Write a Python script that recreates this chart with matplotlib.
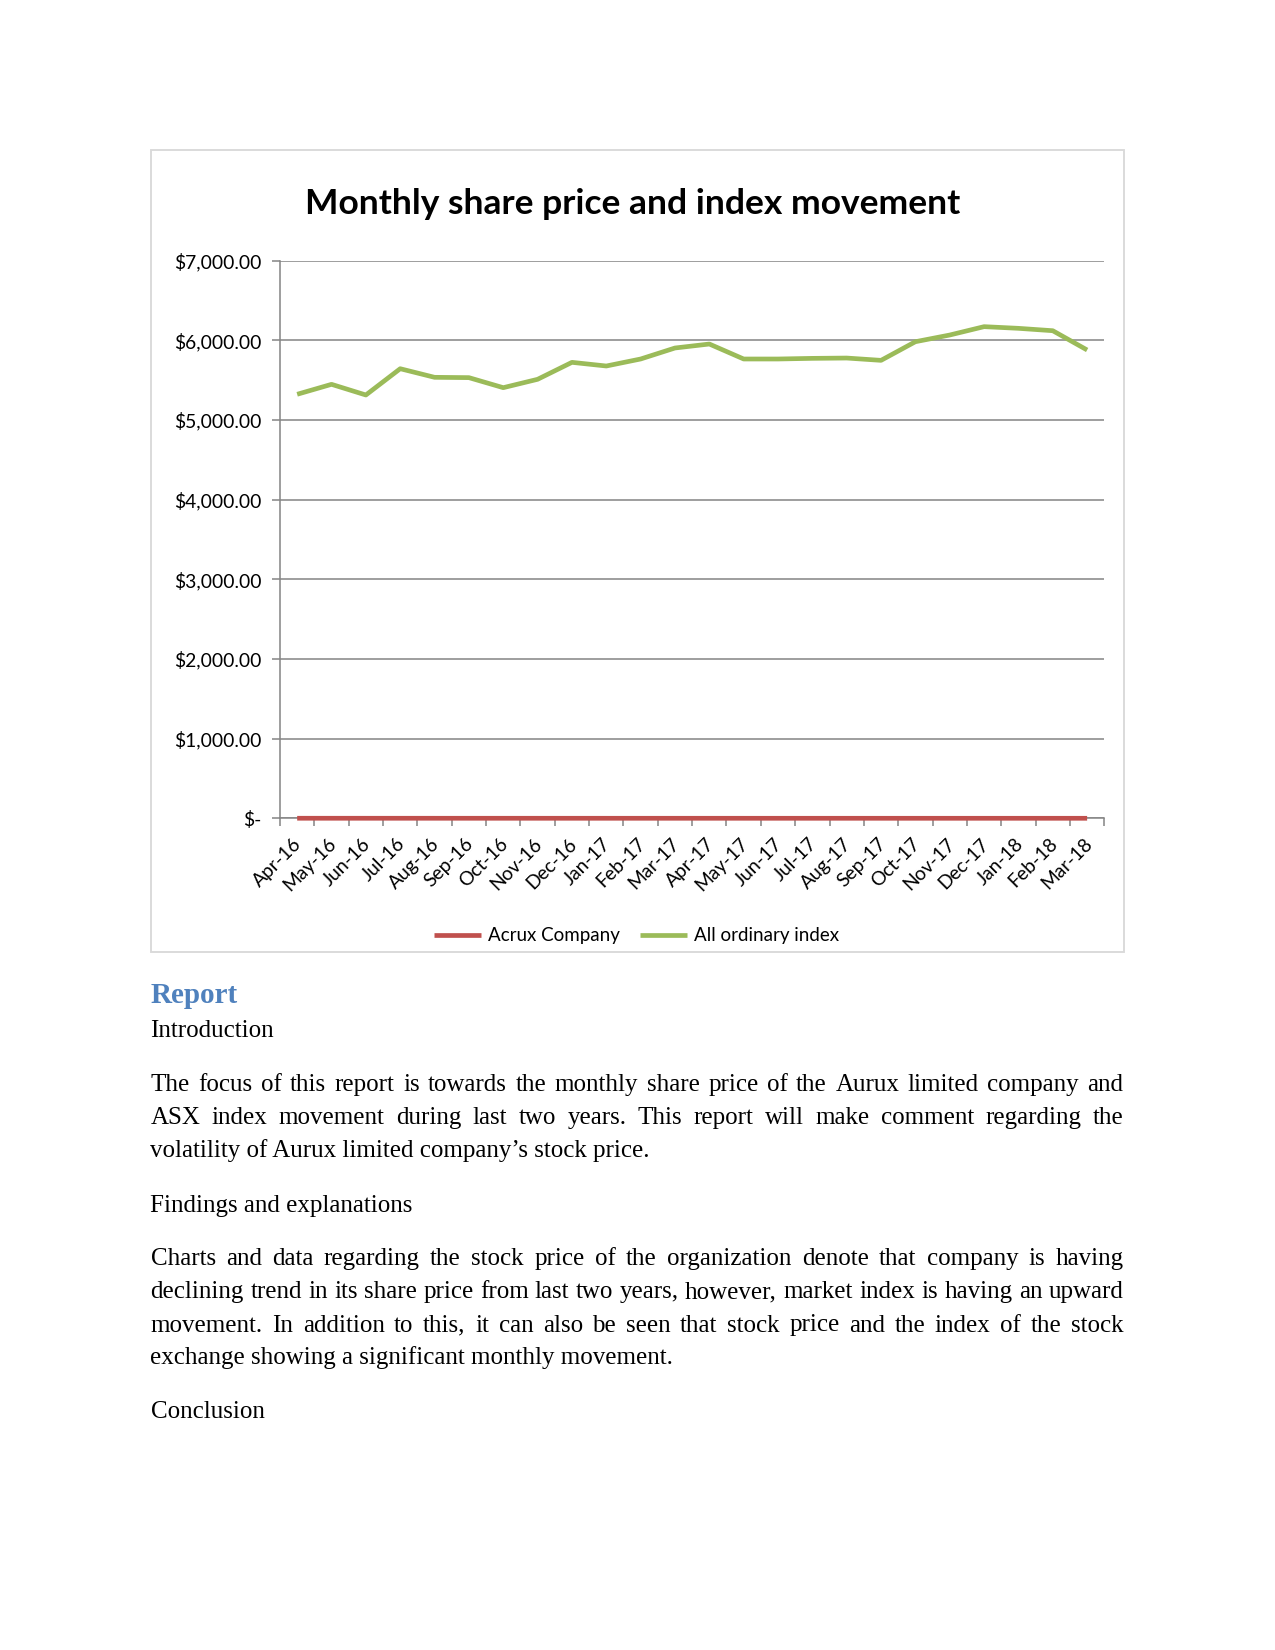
import numpy as np
import matplotlib
matplotlib.use("Agg")
import matplotlib.pyplot as plt
from matplotlib.patches import Rectangle
from matplotlib.ticker import FuncFormatter
from matplotlib.transforms import ScaledTranslation

# ---------------- data ----------------
months = ["Apr-16", "May-16", "Jun-16", "Jul-16", "Aug-16", "Sep-16", "Oct-16", "Nov-16",
          "Dec-16", "Jan-17", "Feb-17", "Mar-17", "Apr-17", "May-17", "Jun-17", "Jul-17",
          "Aug-17", "Sep-17", "Oct-17", "Nov-17", "Dec-17", "Jan-18", "Feb-18", "Mar-18"]
acrux_company = [0.60, 0.52, 0.50, 0.46, 0.43, 0.40, 0.37, 0.34, 0.32, 0.30, 0.29, 0.27,
                 0.26, 0.25, 0.24, 0.23, 0.22, 0.21, 0.20, 0.20, 0.19, 0.18, 0.17, 0.16]
all_ordinary_index = [5323, 5448, 5314, 5644, 5536, 5532, 5406, 5511, 5724, 5678, 5766, 5904,
                      5954, 5766, 5766, 5774, 5778, 5749, 5983, 6067, 6172, 6151, 6121, 5879]
y_ticks = [0, 1000, 2000, 3000, 4000, 5000, 6000, 7000]
series_names = ["Acrux Company", "All ordinary index"]
chart_title = "Monthly share price and index movement"

heading = "Report"
sub_intro = "Introduction"
para1 = [
    "The focus of this report is towards the monthly share price of the Aurux limited company and",
    "ASX index movement during last two years. This report will make comment regarding the",
    "volatility of Aurux limited company\u2019s stock price.",
]
sub_findings = "Findings and explanations"
para2 = [
    "Charts and data regarding the stock price of the organization denote that company is having",
    "declining trend in its share price from last two years, however, market index is having an upward",
    "movement. In addition to this, it can also be seen that stock price and the index of the stock",
    "exchange showing a significant monthly movement.",
]
sub_conclusion = "Conclusion"

# ---------------- figure ----------------
W, H = 1275, 1650
DPI = 150
fig = plt.figure(figsize=(W / DPI, H / DPI), dpi=DPI)
fig.patch.set_facecolor("white")


def fx(px):
    return px / W


def fy(py):
    return 1 - py / H


CHART_FONT = "Lato"
GRID = "#868686"
RED = "#C0504D"
GREEN = "#9BBB59"

# chart frame
fig.add_artist(Rectangle((fx(150.7), fy(951.7)), fx(1124) - fx(150.7), fy(150) - fy(951.7),
                         transform=fig.transFigure, fill=False, ec="#D9D9D9", lw=0.9))

ax_l, ax_r, ax_t, ax_b = 280, 1104.3, 260.7, 818.3
ax = fig.add_axes([fx(ax_l), fy(ax_b), fx(ax_r) - fx(ax_l), fy(ax_t) - fy(ax_b)])
x = np.arange(len(months))
ax.plot(x, all_ordinary_index, color=GREEN, lw=2.25, solid_joinstyle="round",
        solid_capstyle="butt", label=series_names[1], zorder=3)
ax.plot(x, acrux_company, color=RED, lw=2.25, solid_joinstyle="round",
        solid_capstyle="butt", label=series_names[0], zorder=4, clip_on=False)

ax.set_xlim(-0.5, len(months) - 0.5)
ax.set_ylim(y_ticks[0], y_ticks[-1])
ax.set_yticks(y_ticks)


def money(v, pos):
    if v == 0:
        return "$-"
    return "${:,.2f}".format(v)


ax.yaxis.set_major_formatter(FuncFormatter(money))
ax.yaxis.grid(True, color=GRID, lw=0.75)
ax.set_axisbelow(True)
for s in ["top", "right"]:
    ax.spines[s].set_visible(False)
for s in ["left", "bottom"]:
    ax.spines[s].set_color(GRID)
    ax.spines[s].set_linewidth(0.75)

ax.tick_params(axis="y", length=4, width=0.75, color=GRID, pad=5, labelsize=9.25,
               labelcolor="black")
ax.set_xticks(np.arange(-0.5, len(months), 1.0))
ax.set_xticklabels([])
ax.set_xticks(x, minor=True)
ax.set_xticklabels(months, minor=True, rotation=45, ha="right", va="top",
                   rotation_mode="anchor")
ax.tick_params(axis="x", which="major", length=4, width=0.75, color=GRID)
ax.tick_params(axis="x", which="minor", length=0, pad=8, labelsize=9.25, labelcolor="black")
shift = ScaledTranslation(-4 / DPI, 0, fig.dpi_scale_trans)
for lab in ax.get_xticklabels(minor=True):
    lab.set_family(CHART_FONT)
    lab.set_transform(lab.get_transform() + shift)
for lab in ax.get_yticklabels():
    lab.set_family(CHART_FONT)

fig.text(fx(633), fy(214), chart_title, ha="center", va="baseline", fontsize=17,
         fontweight="bold", family=CHART_FONT)

h, l = ax.get_legend_handles_labels()
order = [l.index(series_names[0]), l.index(series_names[1])]
fig.legend([h[i] for i in order], [l[i] for i in order], loc="center",
           bbox_to_anchor=(fx(636.4), fy(936)), ncol=2, frameon=False,
           prop={"family": CHART_FONT, "size": 9}, handlelength=2.55,
           handletextpad=0.35, columnspacing=1.05, borderpad=0)

# ---------------- body text ----------------
BODY = "Liberation Serif"
LEFT, RIGHT = 150.5, 1123.5
renderer = fig.canvas.get_renderer()


def text_width(s, **kw):
    t = fig.text(0, 0, s, **kw)
    w = t.get_window_extent(renderer).width
    t.remove()
    return w


def put_line(s, base_y, justify, **kw):
    if not justify:
        fig.text(fx(LEFT), fy(base_y), s, ha="left", va="baseline", **kw)
        return
    words = s.split(" ")
    widths = [text_width(w, **kw) for w in words]
    gap = (RIGHT - LEFT - sum(widths)) / (len(words) - 1)
    cx = LEFT
    for w, wd in zip(words, widths):
        fig.text(fx(cx), fy(base_y), w, ha="left", va="baseline", **kw)
        cx += wd + gap


body_kw = dict(family=BODY, fontsize=12, color="black")
fig.text(fx(LEFT), fy(1003.3), heading, ha="left", va="baseline", family=BODY,
         fontsize=14, fontweight="bold", color="#4F81BD")
put_line(sub_intro, 1036.7, False, **body_kw)
p1_base = [1090.7, 1124.0, 1156.7]
for i, s in enumerate(para1):
    put_line(s, p1_base[i], i < len(para1) - 1, **body_kw)
put_line(sub_findings, 1211.7, False, **body_kw)
p2_base = [1265.0, 1298.3, 1331.5, 1364.3]
for i, s in enumerate(para2):
    put_line(s, p2_base[i], i < len(para2) - 1, **body_kw)
put_line(sub_conclusion, 1417.7, False, **body_kw)

fig.savefig("out.png", dpi=DPI, facecolor="white")
